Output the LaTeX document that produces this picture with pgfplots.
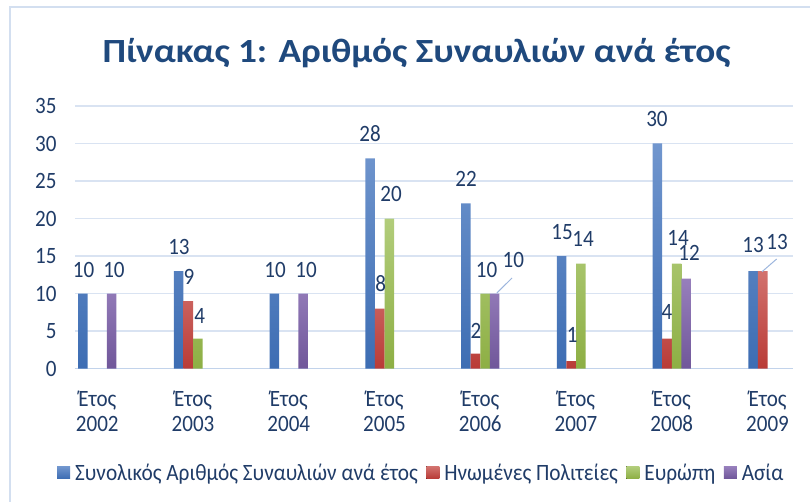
\documentclass[border=0pt]{standalone}
\usepackage{fontspec}
\setmainfont{Carlito}[FakeStretch=0.9]
\newfontfamily\titlefont{Carlito}[FakeStretch=1.1]
\newfontfamily\legfont{Carlito}[FakeStretch=0.91]
\usepackage{pgfplots}
\pgfplotsset{compat=1.18}
\definecolor{txt}{HTML}{203C68}
\definecolor{titlec}{HTML}{1F497D}
\definecolor{gridc}{HTML}{D9E3F2}
\definecolor{zeroc}{HTML}{C2D3EB}
\definecolor{bordc}{HTML}{D3DFF0}
\definecolor{bT}{HTML}{7196CE}
\definecolor{bB}{HTML}{3D6DB3}
\definecolor{rT}{HTML}{D2726E}
\definecolor{rB}{HTML}{B93B37}
\definecolor{gT}{HTML}{B2CD7B}
\definecolor{gB}{HTML}{8DAF44}
\definecolor{pT}{HTML}{977FBC}
\definecolor{pB}{HTML}{70579A}
\begin{document}
\begin{tikzpicture}
\begin{axis}[
  scale only axis, width=718bp, height=262.5bp,
  xmin=-0.233, xmax=7.266, ymin=0, ymax=35,
  ytick={0,5,...,35}, xtick={0,...,7},
  xticklabels={{Έτος\\2002},{Έτος\\2003},{Έτος\\2004},{Έτος\\2005},{Έτος\\2006},{Έτος\\2007},{Έτος\\2008},{Έτος\\2009}},
  axis line style={draw=none},
  major tick length=0pt,
  ymajorgrids, grid style={draw=gridc, line width=1.4bp},
  tick label style={font=\fontsize{23.5}{25}\selectfont, text=txt},
  xticklabel style={align=center, anchor=north, yshift=-19bp},
  yticklabel style={anchor=east, xshift=-15bp},
  /pgf/number format/assume math mode=true,
  clip=false,
  legend columns=-1,
  legend style={at={(0.4826,-0.40)}, anchor=center, draw=none, fill=none,
    font=\legfont\fontsize{23.5}{25}\selectfont, text=txt,
    /tikz/every odd column/.append style={column sep=2.5bp},
    /tikz/every even column/.append style={column sep=6bp},
    nodes={inner sep=2.5bp}},
  legend image code/.code={\fill[#1] (0bp,-5bp) rectangle (13bp,7bp);},
]
\draw[zeroc, line width=1.6bp] (axis cs:-0.233,0) -- (axis cs:7.266,0);
\addplot[ybar, bar width=0.1, bar shift=-0.15, draw=none, top color=bT, bottom color=bB]
  coordinates {(0,10) (1,13) (2,10) (3,28) (4,22) (5,15) (6,30) (7,13)};
\addplot[ybar, bar width=0.1, bar shift=-0.05, draw=none, top color=rT, bottom color=rB]
  coordinates {(1,9) (3,8) (4,2) (5,1) (6,4) (7,13)};
\addplot[ybar, bar width=0.1, bar shift=0.05, draw=none, top color=gT, bottom color=gB]
  coordinates {(1,4) (3,20) (4,10) (5,14) (6,14)};
\addplot[ybar, bar width=0.1, bar shift=0.15, draw=none, top color=pT, bottom color=pB]
  coordinates {(0,10) (2,10) (4,10) (6,12)};
\legend{Συνολικός Αριθμός Συναυλιών ανά έτος, Ηνωμένες Πολιτείες, Ευρώπη, Ασία}
% leader lines
\addplot[forget plot, color=bT!70!white, line width=1bp] coordinates {(4.174,10.07) (4.331,12.07)};
\addplot[forget plot, color=bT!70!white, line width=1bp] coordinates {(6.942,12.9) (7.095,14.6)};
% data labels
\addplot[forget plot, only marks, mark=none, nodes near coords, point meta=explicit symbolic,
  every node near coord/.append style={anchor=center, inner sep=0pt, font=\fontsize{23.5}{25}\selectfont, text=txt}]
  coordinates {
  (-0.144,13.1) [10] (0.174,13.1) [10]
  (0.853,16.2) [13] (0.958,12.2) [9] (1.07,7.0) [4]
  (1.856,13.1) [10] (2.18,13.1) [10]
  (2.849,31.3) [28] (2.96,11.3) [8] (3.068,23.3) [20]
  (3.851,25.3) [22] (3.955,5.0) [2] (4.066,13.1) [10] (4.345,14.5) [10]
  (4.854,18.2) [15] (4.96,4.5) [1] (5.073,17.3) [14]
  (5.845,33.3) [30] (5.95,7.5) [4] (6.065,17.4) [14] (6.18,15.4) [12]
  (6.849,16.5) [13] (7.099,16.9) [13]
  };
\end{axis}
\draw[bordc, line width=1.5bp] (-65bp,-140bp) -- (-65bp,361.5bp) -- (745bp,361.5bp);
\node[anchor=base, font=\titlefont\fontsize{34}{40}\selectfont\bfseries, text=titlec] at (341.5bp,305.5bp) {Πίνακας 1: Αριθμός Συναυλιών ανά έτος};
\pgfresetboundingbox
\path[use as bounding box] (-75bp,-133.5bp) rectangle (735bp,368.5bp);
\end{tikzpicture}
\end{document}
